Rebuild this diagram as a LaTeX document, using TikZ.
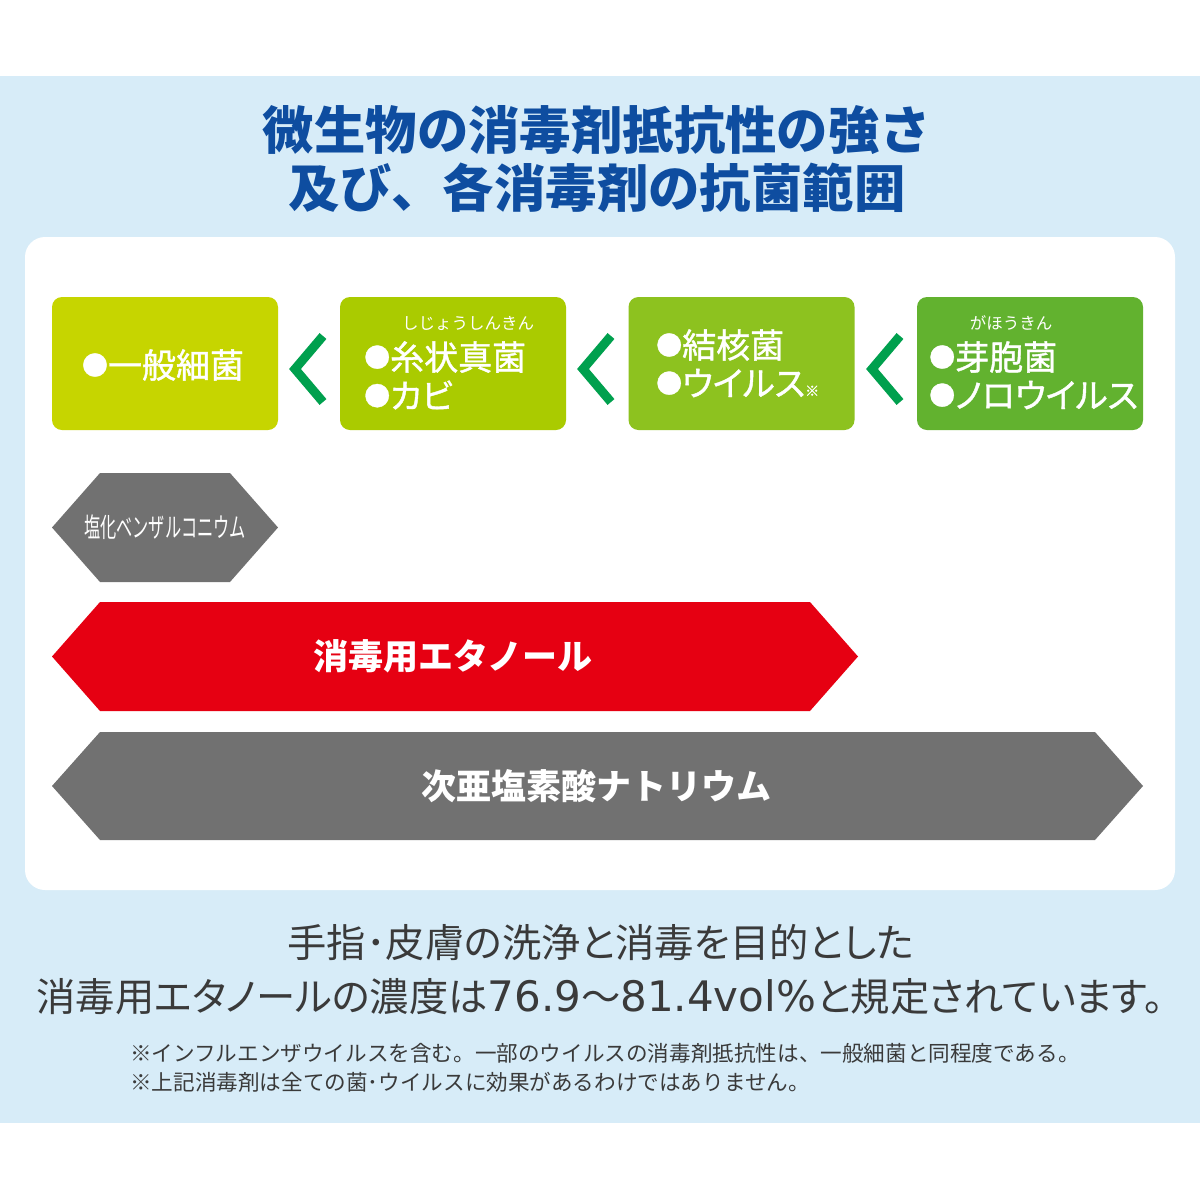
\documentclass[tikz,border=0pt]{standalone}
\usepackage{fontspec}
\usetikzlibrary{positioning}
\newfontfamily\cjk{Noto Sans CJK JP}
\newfontfamily\cjkp{Noto Sans CJK JP}[RawFeature=+palt]
\newfontfamily\cjkmed{Noto Sans CJK JP}[RawFeature=+palt,FakeBold=1.2]
\newfontfamily\cjkcond{Noto Sans CJK JP}[FakeStretch=0.6]
\newfontfamily\digits{DejaVu Sans}
\newcommand\gdot{\raisebox{3pt}{\fontsize{26}{26}\selectfont ●}}
\definecolor{band}{HTML}{D7ECF8}
\definecolor{titleblue}{HTML}{0E4DA0}
\definecolor{gA}{HTML}{C6D500}
\definecolor{gB}{HTML}{AACB00}
\definecolor{gC}{HTML}{8DC21F}
\definecolor{gD}{HTML}{62B22F}
\definecolor{chev}{HTML}{00A04E}
\definecolor{agent}{HTML}{717171}
\definecolor{ethanol}{HTML}{E60012}
\definecolor{body}{HTML}{3A3A3A}
\begin{document}
\begin{tikzpicture}[x=1pt,y=-1pt,font=\cjk,
  heading/.style={text=titleblue,font=\cjk\bfseries\fontsize{51.4}{51.4}\selectfont,inner sep=0pt},
  germbox/.style={rounded corners=10pt,minimum width=226pt,minimum height=133pt,inner sep=0pt},
  germ/.style={text=white,font=\cjkmed\fontsize{34}{34}\selectfont,inner sep=0pt},
  ruby/.style={text=white,font=\cjk\fontsize{16.5}{16.5}\selectfont,inner sep=0pt},
  chevron/.style={chev,line width=9pt,miter limit=10},
  agenttext/.style={text=white,font=\cjk\bfseries\fontsize{35}{35}\selectfont,inner sep=0pt},
  lead/.style={text=body,font=\cjkp\fontsize{39.3}{39.3}\selectfont,inner sep=0pt},
  note/.style={text=body,font=\cjk\fontsize{21.6}{21.6}\selectfont,inner sep=0pt,anchor=west}]
\useasboundingbox (0,0) rectangle (1200,1200);
\fill[white] (0,0) rectangle (1200,1200);
\fill[band] (0,76) rectangle (1200,1123);
\fill[white,rounded corners=20pt] (25,237) rectangle (1175,890);

% title
\node[heading] (title1) at (597,130) {微生物の消毒剤抵抗性の強さ};
\node[heading] (title2) at (597,188) {及び、各消毒剤の抗菌範囲};

% germ boxes, weakest to strongest
\foreach \i/\x/\col in {1/165/gA,2/453/gB,3/741.5/gC,4/1030/gD}
  \node[germbox,fill=\col] (g\i) at (\x,363.5) {};
\foreach \x in {309,597,886}
  \draw[chevron] (\x+14,336) -- (\x-14,369) -- (\x+14,402);

\node[germ] (g1a) at (163,365) {\gdot 一般細菌};
\node[ruby] (g2r) at (468,323) {しじょうしんきん};
\node[germ,anchor=west] (g2a) at (364,357) {\gdot 糸状真菌};
\node[germ,anchor=west] (g2b) at (364,395) {\gdot カビ};
\node[germ,anchor=west] (g3a) at (656,345) {\gdot 結核菌};
\node[germ,anchor=west] (g3b) at (656,383) {\gdot ウイルス{\fontsize{14}{14}\selectfont ※}};
\node[ruby] (g4r) at (1011,323) {がほうきん};
\node[germ,anchor=west] (g4a) at (929,357) {\gdot 芽胞菌};
\node[germ,anchor=west] (g4b) at (929,395) {\gdot ノロウイルス};

% disinfectant ranges
\foreach \top/\bot/\rx/\col in {473/582/278/agent,602/711/858/ethanol,732/840/1143/agent}
  \fill[\col] (52,{(\top+\bot)/2}) -- (100,\top) -- (\rx-48,\top) -- (\rx,{(\top+\bot)/2})
    -- (\rx-48,\bot) -- (100,\bot) -- cycle;
\node[text=white,font=\cjkcond\fontsize{27}{27}\selectfont,inner sep=0pt] (bac) at (165,527) {塩化ベンザルコニウム};
\node[agenttext] (eth) at (453,656) {消毒用エタノール};
\node[agenttext] (hypo) at (596,786) {次亜塩素酸ナトリウム};

% footnotes
\node[lead] (lead1) at (601,943) {手指･皮膚の洗浄と消毒を目的とした};
\node[lead] (lead2) at (600,997) {消毒用エタノールの濃度は{\digits\fontsize{42}{42}\selectfont 76.9}～{\digits\fontsize{42}{42}\selectfont 81.4vol\%}と規定されています。};
\node[note] (note1) at (130,1053) {※インフルエンザウイルスを含む。一部のウイルスの消毒剤抵抗性は、一般細菌と同程度である。};
\node[note] (note2) at (130,1082) {※上記消毒剤は全ての菌･ウイルスに効果があるわけではありません。};
\end{tikzpicture}
\end{document}
